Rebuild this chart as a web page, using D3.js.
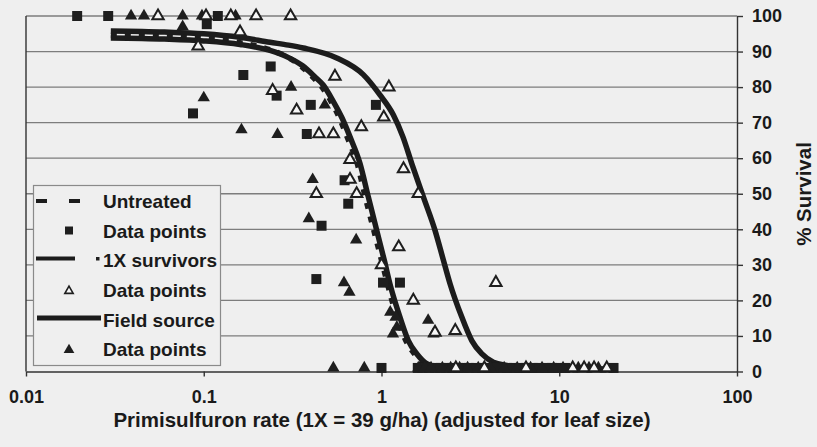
<!DOCTYPE html>
<html>
<head>
<meta charset="utf-8">
<title>Primisulfuron survival</title>
<script src="https://cdnjs.cloudflare.com/ajax/libs/d3/7.8.5/d3.min.js"></script>
<style>
body { margin: 0; background: #efefef; }
svg { display: block; font-family: "Liberation Sans", Arial, sans-serif; }
.grid line { stroke: #7d7d7d; stroke-width: 1.3; }
.axis path, .axis line { stroke: #333; stroke-width: 1.4; fill: none; }
.axis text { font-family: "Liberation Sans", Arial, sans-serif; font-size: 18px; font-weight: bold; fill: #1a1a1a; }
.curve { fill: none; stroke: #1c1c1c; stroke-width: 5.5; }
.title { font-weight: bold; fill: #1a1a1a; }
.legend text { font-size: 19px; font-weight: bold; fill: #1a1a1a; }
</style>
</head>
<body>
<script>

// axis ticks
var rateTicks = [0.01, 0.1, 1, 10, 100];
var rateTickLabels = ["0.01", "0.1", "1", "10", "100"];
var survivalTicks = [0, 10, 20, 30, 40, 50, 60, 70, 80, 90, 100];

// fitted curves [rate, % survival]
var untreatedCurve = [[0.03,94.5],[0.06,94.2],[0.1,93.6],[0.16,92.5],[0.236,90.5],[0.3,88.3],[0.36,85.5],[0.42,82.3],[0.47,79.5],[0.52,76.0],[0.58,71.3],[0.64,66.0],[0.73,58.5],[0.81,49.1],[0.905,39.7],[1.0,31.3],[1.08,24.7],[1.22,15.3],[1.37,8.7],[1.53,5.0],[1.75,2.2],[2.3,0.8],[5,0.5],[20,0.5]];
var survivorsCurve = [[0.03,95.8],[0.06,95.5],[0.1,95.0],[0.16,94.0],[0.236,92.6],[0.3,91.8],[0.363,91.0],[0.56,88.2],[0.79,83.5],[0.98,77.8],[1.165,72.2],[1.32,66.0],[1.48,58.5],[1.72,49.1],[2.0,39.7],[2.23,31.3],[2.43,24.7],[2.83,15.3],[3.22,8.7],[3.66,5.0],[4.26,2.6],[5.06,1.7],[6.56,1.2],[10,0.8],[20,0.7]];
var fieldCurve = [[0.03,93.8],[0.06,93.5],[0.1,93.0],[0.16,92.0],[0.236,90.3],[0.3,88.3],[0.36,86.0],[0.42,83.0],[0.47,80.6],[0.535,76.0],[0.6,71.3],[0.665,66.0],[0.757,58.5],[0.843,49.1],[0.94,39.7],[1.04,31.0],[1.12,24.3],[1.27,15.3],[1.415,8.7],[1.578,5.0],[1.8,2.2],[2.33,0.8],[5,0.5],[20,0.5]];

// data points [rate, % survival]
var untreatedPts = [[0.0194,100],[0.029,100],[0.12,100],[0.104,97.7],[0.238,85.8],[0.167,83.4],[0.257,77.6],[0.087,72.6],[0.40,75],[0.93,75],[0.38,66.8],[0.62,53.8],[0.65,47.2],[0.46,41],[0.43,26],[1.02,25],[1.27,25],
  [1.0,1],[1.6,1],[1.7,1],[1.85,1],[2.0,1],[2.15,1],[2.3,1],[2.5,1],[2.7,1],[2.9,1],[3.1,1],[3.4,1],[3.7,1],[4.0,1],[4.3,1],[4.7,1],[5.1,1],[5.5,1],[6.0,1],[6.5,1],[7.1,1],[7.7,1],[8.4,1],[9.1,1],[9.9,1],[10.8,1],[20.2,1]];
var survivorsPts = [[0.0553,100],[0.103,100],[0.142,100],[0.197,100],[0.308,100],[0.093,91.5],[0.16,95.5],[0.244,79],[0.333,73.5],[0.547,83],[1.1,80],[1.03,71.5],[0.445,66.8],[0.536,66.8],[0.77,68.8],[0.665,59.6],[1.33,57],[0.665,54],[0.43,50],[0.725,50],[1.61,50],[1.25,35],[1.0,30],[1.51,20],[2.0,11],[2.6,11.5],[4.4,25],
  [2.62,1],[3.79,1],[6.5,1],[11.9,1],[13.8,1],[15.7,1],[18.5,1]];
var fieldPts = [[0.039,100],[0.0461,100],[0.0761,100],[0.0977,100],[0.151,100],[0.0761,97],[0.10,77],[0.163,68],[0.26,66.7],[0.31,80],[0.48,75],[0.41,54],[0.39,43],[0.72,37],[0.615,25],[0.66,22.3],[1.12,16.7],[1.2,15.3],[1.22,12.5],[1.16,10.6],[1.83,14.4],[1.96,10.6],
  [0.536,1],[0.8,1],[1.61,1],[1.75,1],[1.9,1],[2.2,1],[2.45,1],[2.75,1],[3.05,1],[3.5,1],[4.1,1],[4.9,1],[5.8,1],[6.9,1],[8.0,1],[9.3,1],[10.5,1],[12.8,1],[14.7,1],[16.6,1]];

var legendLabels = ["Untreated", "Data points", "1X survivors", "Data points", "Field source", "Data points"];

var width = 817, height = 447;
var margin = { top: 16, right: 80, bottom: 75.5, left: 26 };

var x = d3.scaleLog().domain([0.01, 100]).range([margin.left, width - margin.right]);
var y = d3.scaleLinear().domain([0, 100]).range([height - margin.bottom, margin.top]);

var svg = d3.select("body").append("svg")
    .attr("width", width)
    .attr("height", height);

svg.append("rect").attr("width", width).attr("height", height).attr("fill", "#efefef");

// horizontal gridlines
svg.append("g").attr("class", "grid")
    .selectAll("line").data(survivalTicks.slice(1)).enter().append("line")
    .attr("x1", x(0.01)).attr("x2", x(100))
    .attr("y1", function(d) { return y(d); })
    .attr("y2", function(d) { return y(d); });

// left frame line
svg.append("line")
    .attr("x1", x(0.01)).attr("x2", x(0.01))
    .attr("y1", y(100)).attr("y2", y(0))
    .attr("stroke", "#333").attr("stroke-width", 1.4);

svg.append("g")
    .attr("class", "axis")
    .attr("transform", "translate(0," + y(0) + ")")
    .call(d3.axisBottom(x).tickValues(rateTicks)
        .tickFormat(function(d, i) { return rateTickLabels[i]; })
        .tickSize(5).tickSizeOuter(0).tickPadding(14));

svg.append("g")
    .attr("class", "axis")
    .attr("transform", "translate(" + x(100) + ",0)")
    .call(d3.axisRight(y).tickValues(survivalTicks)
        .tickSize(6).tickSizeOuter(0).tickPadding(9));

var line = d3.line()
    .x(function(d) { return x(d[0]); })
    .y(function(d) { return y(d[1]); })
    .curve(d3.curveMonotoneX);

svg.append("path").attr("class", "curve").attr("d", line(survivorsCurve));
svg.append("path").attr("class", "curve").attr("d", line(fieldCurve));
svg.append("path").attr("class", "curve")
    .attr("stroke-dasharray", "6,8")
    .attr("d", line(untreatedCurve));

var square = d3.symbol().type(d3.symbolSquare).size(100);
var triFilled = d3.symbol().type(d3.symbolTriangle).size(66);
var triOpen = d3.symbol().type(d3.symbolTriangle).size(56);

function drawPoints(data, sym, fill, stroke) {
    svg.append("g").selectAll("path").data(data).enter().append("path")
        .attr("transform", function(d) { return "translate(" + x(d[0]) + "," + y(d[1]) + ")"; })
        .attr("d", sym)
        .attr("fill", fill)
        .attr("stroke", stroke)
        .attr("stroke-width", stroke == "none" ? 0 : 2);
}

drawPoints(untreatedPts, square, "#1e1e1e", "none");
drawPoints(fieldPts, triFilled, "#1e1e1e", "none");
drawPoints(survivorsPts, triOpen, "#f6f6f6", "#1e1e1e");

// legend
var lg = svg.append("g").attr("class", "legend");
lg.append("rect")
    .attr("x", 33.5).attr("y", 185.5).attr("width", 187).attr("height", 180)
    .attr("fill", "#efefef").attr("stroke", "#8a8a8a").attr("stroke-width", 1.2);

var rowY = [201, 230.5, 260, 290, 319.5, 349];
lg.selectAll("text").data(legendLabels).enter().append("text")
    .attr("x", 103)
    .attr("y", function(d, i) { return rowY[i] + 7; })
    .text(function(d) { return d; });

lg.append("line").attr("x1", 36).attr("x2", 81).attr("y1", rowY[0]).attr("y2", rowY[0])
    .attr("stroke", "#1c1c1c").attr("stroke-width", 4).attr("stroke-dasharray", "11,22");
lg.append("path").attr("transform", "translate(69," + rowY[1] + ")")
    .attr("d", d3.symbol().type(d3.symbolSquare).size(64)).attr("fill", "#1e1e1e");
lg.append("line").attr("x1", 36).attr("x2", 75).attr("y1", rowY[2] - 1.5).attr("y2", rowY[2] - 1.5)
    .attr("stroke", "#1c1c1c").attr("stroke-width", 4);
lg.append("rect").attr("x", 96).attr("y", rowY[2] - 3).attr("width", 3.5).attr("height", 3.5).attr("fill", "#1e1e1e");
lg.append("path").attr("transform", "translate(69," + (rowY[3] + 1) + ")")
    .attr("d", d3.symbol().type(d3.symbolTriangle).size(30))
    .attr("fill", "#f6f6f6").attr("stroke", "#1e1e1e").attr("stroke-width", 1.6);
lg.append("line").attr("x1", 37).attr("x2", 101).attr("y1", rowY[4] - 1.5).attr("y2", rowY[4] - 1.5)
    .attr("stroke", "#1c1c1c").attr("stroke-width", 5);
lg.append("path").attr("transform", "translate(69," + (rowY[5] + 1) + ")")
    .attr("d", d3.symbol().type(d3.symbolTriangle).size(50)).attr("fill", "#1e1e1e");

// axis titles
svg.append("text").attr("class", "title")
    .attr("x", 382).attr("y", 427)
    .attr("text-anchor", "middle")
    .style("font-size", "20.5px")
    .text("Primisulfuron rate (1X = 39 g/ha) (adjusted for leaf size)");

svg.append("text").attr("class", "title")
    .attr("transform", "translate(804,194) rotate(-90)")
    .attr("text-anchor", "middle")
    .attr("dy", "0.35em")
    .style("font-size", "20.5px")
    .text("% Survival");

</script>
</body>
</html>
